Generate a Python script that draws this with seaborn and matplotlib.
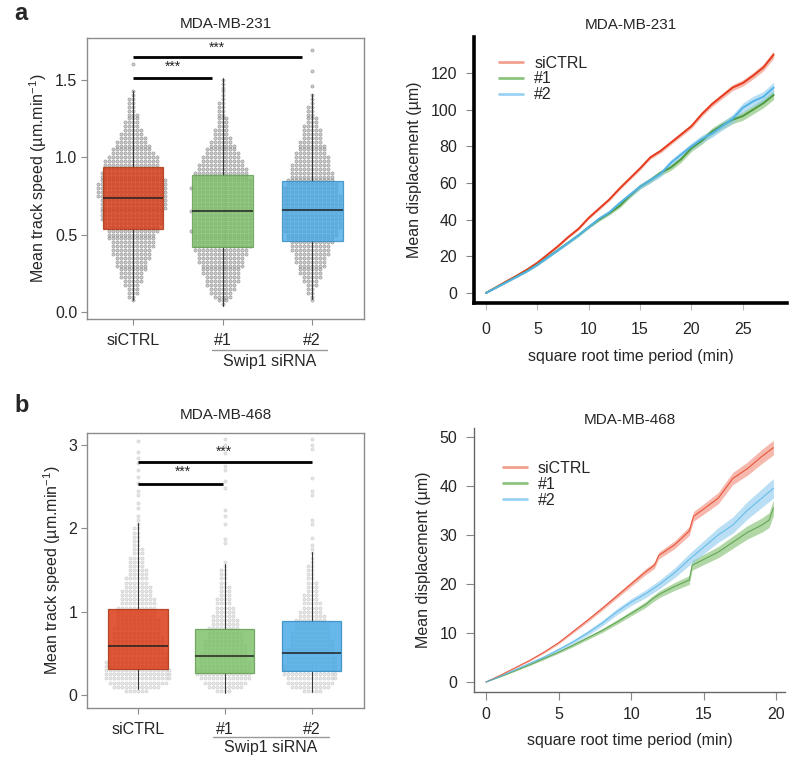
import numpy as np
import pandas as pd
import seaborn as sns
import matplotlib
matplotlib.use("Agg")
import matplotlib.pyplot as plt
from matplotlib.lines import Line2D
from matplotlib.transforms import blended_transform_factory

sns.set_style("white")
plt.rcParams['font.family'] = ['Liberation Sans', 'DejaVu Sans']
plt.rcParams['mathtext.fontset'] = 'custom'
plt.rcParams['mathtext.rm'] = 'Liberation Sans'

groups = ["siCTRL", "#1", "#2"]

# ---- panel a: MDA-MB-231 track speed, binned beeswarm counts (bin = 0.025) ----
step_a = 0.025
ctrl_a_start = 0.075
ctrl_a_counts = [1, 2, 3, 3, 4, 5, 6, 6, 7, 8, 8, 9, 10, 10, 11, 11, 12, 12, 13, 14,
                 15, 16, 16, 16, 17, 17, 17, 18, 18, 18, 18, 17, 16, 16, 15, 14, 14, 13,
                 11, 10, 9, 8, 7, 6, 5, 4, 4, 3, 3, 2, 2, 2, 2, 1, 1]
ctrl_a_extra = [1.60]
si1_a_start = 0.05
si1_a_counts = [1, 3, 5, 6, 7, 8, 9, 9, 10, 10, 11, 12, 12, 13, 14, 15, 15, 15, 15, 16,
                15, 15, 15, 15, 16, 15, 15, 15, 15, 15, 16, 15, 15, 14, 14, 13, 12, 11,
                10, 9, 8, 7, 6, 5, 4, 4, 3, 3, 3, 2, 2, 2, 2, 1, 1, 1, 1, 1, 1]
si1_a_extra = []
si2_a_start = 0.075
si2_a_counts = [1, 1, 2, 2, 3, 4, 5, 6, 6, 7, 8, 8, 9, 10, 10, 11, 12, 13, 14, 15,
                15, 15, 15, 15, 15, 15, 15, 15, 14, 14, 13, 12, 11, 11, 10, 10, 9, 9,
                8, 7, 7, 6, 5, 5, 5, 4, 3, 3, 2, 2, 2, 1, 1, 1]
si2_a_extra = [1.46, 1.56, 1.69]

box_a_q1 = [0.535, 0.42, 0.458]
box_a_med = [0.735, 0.65, 0.66]
box_a_q3 = [0.935, 0.884, 0.845]
box_a_lo = [0.08, 0.04, 0.085]
box_a_hi = [1.43, 1.51, 1.41]

# ---- panel b: MDA-MB-468 track speed (bin = 0.05) ----
step_b = 0.05
ctrl_b_start = 0.05
ctrl_b_counts = [6, 12, 15, 17, 17, 17, 16, 16, 15, 15, 14, 14, 13, 13, 12, 12, 11, 11,
                 10, 10, 10, 9, 9, 8, 8, 7, 6, 6, 5, 5, 4, 4, 4, 3, 3, 2, 2, 2, 2, 2, 1, 1]
ctrl_b_extra = [2.15, 2.25, 2.30, 2.40, 2.45, 2.55, 2.62, 2.70, 2.78, 2.85, 2.92, 3.05]
si1_b_start = 0.05
si1_b_counts = [4, 9, 11, 13, 14, 14, 13, 13, 12, 12, 11, 11, 10, 9, 9, 8, 7, 7, 6, 5,
                5, 4, 4, 3, 3, 3, 2, 2, 2, 2, 1, 1]
si1_b_extra = [1.82, 1.87, 2.05, 2.15, 2.22, 2.48, 2.57, 2.70, 2.75, 2.90, 3.00, 3.07]
si2_b_start = 0.05
si2_b_counts = [5, 10, 12, 13, 14, 14, 14, 13, 13, 12, 12, 11, 11, 10, 10, 9, 9, 8, 7, 6,
                5, 5, 4, 4, 3, 3, 3, 2, 2, 2, 2, 1, 1, 1, 1]
si2_b_extra = [1.80, 1.88, 2.05, 2.10, 2.40, 2.45, 2.60, 2.95, 3.00, 3.07]

box_b_q1 = [0.31, 0.27, 0.29]
box_b_med = [0.59, 0.47, 0.51]
box_b_q3 = [1.03, 0.79, 0.89]
box_b_lo = [0.07, 0.03, 0.04]
box_b_hi = [2.07, 1.57, 1.72]

# ---- mean displacement curves, MDA-MB-231 ----
t_a = [0, 1, 2, 3, 4, 5, 6, 7, 8, 9, 10, 11, 12, 13, 14, 15, 16, 17, 18, 19, 20,
       21, 22, 23, 24, 25, 26, 27, 28]
ctrl_a_disp = [0, 3.2, 6.4, 9.5, 12.8, 16.5, 21, 25.5, 30.5, 35, 41, 46, 51, 57, 62.5,
               68, 74, 77.5, 82, 86.5, 91, 97.5, 103, 107.5, 112, 114.5, 118.5, 123, 130]
si1_a_disp = [0, 3, 6, 9, 12, 15.5, 19.5, 23.5, 27.5, 31.5, 36, 40, 43.5, 47.5, 53,
              58, 61.5, 65.5, 68.5, 73, 79, 83, 88, 91.5, 94.5, 96.5, 100, 103.5, 108]
si2_a_disp = [0, 2.9, 5.8, 8.8, 11.8, 15.3, 19.3, 23.3, 27.3, 31.5, 36, 40.5, 44, 49,
              53.5, 58, 61.5, 65, 71, 75.5, 80, 84, 87, 91, 95, 101, 104.5, 107, 112]
ctrl_a_ci = [0, 0.1, 0.2, 0.3, 0.4, 0.5, 0.5, 0.6, 0.6, 0.7, 0.7, 0.8, 0.8, 0.9, 0.9,
             1.0, 1.0, 1.1, 1.1, 1.2, 1.2, 1.3, 1.4, 1.5, 1.6, 1.7, 1.8, 1.9, 2.0]
si1_a_ci = [0, 0.1, 0.2, 0.3, 0.4, 0.5, 0.5, 0.6, 0.7, 0.7, 0.8, 0.9, 1.0, 1.1, 1.2,
            1.3, 1.4, 1.5, 1.6, 1.7, 1.8, 1.9, 2.0, 2.1, 2.2, 2.3, 2.4, 2.5, 2.5]
si2_a_ci = [0, 0.1, 0.2, 0.3, 0.4, 0.5, 0.6, 0.7, 0.7, 0.8, 0.9, 1.0, 1.1, 1.2, 1.3,
            1.4, 1.5, 1.6, 1.7, 1.8, 1.9, 2.0, 2.1, 2.2, 2.4, 2.6, 2.8, 2.9, 3.0]

# ---- mean displacement curves, MDA-MB-468 ----
t_b_ctrl = [0, 1, 2, 3, 4, 5, 6, 7, 8, 9, 10, 11, 11.6, 11.9, 13, 14, 14.3, 15, 16,
            17, 18, 19, 19.8]
ctrl_b_disp = [0, 1.4, 2.9, 4.4, 6.1, 8, 10.3, 12.6, 15, 17.5, 20, 22.5, 23.8, 25.8,
               28, 30.8, 33.8, 35.3, 37.5, 41.5, 43.5, 46, 47.8]
ctrl_b_ci = [0, 0.05, 0.1, 0.15, 0.2, 0.25, 0.3, 0.35, 0.4, 0.45, 0.5, 0.6, 0.65, 0.7,
             0.8, 0.9, 1.0, 1.05, 1.15, 1.25, 1.35, 1.45, 1.5]
t_b_si1 = [0, 1, 2, 3, 4, 5, 6, 7, 8, 9, 10, 11, 11.5, 12, 13, 14, 14.2, 15, 16, 17,
           18, 19, 19.5, 19.8]
si1_b_disp = [0, 1.1, 2.3, 3.5, 4.8, 6.1, 7.5, 9, 10.5, 12.2, 14, 15.8, 17, 18, 19.5,
              20.8, 23.8, 25, 26.5, 28.5, 30.5, 32, 33, 35.5]
si1_b_ci = [0, 0.05, 0.1, 0.15, 0.2, 0.25, 0.3, 0.35, 0.4, 0.45, 0.5, 0.6, 0.65, 0.7,
            0.8, 0.9, 1.0, 1.05, 1.15, 1.25, 1.35, 1.45, 1.5, 1.6]
t_b_si2 = [0, 1, 2, 3, 4, 5, 6, 7, 8, 9, 10, 11, 12, 13, 14, 15, 16, 17, 18, 19, 19.8]
si2_b_disp = [0, 1.2, 2.5, 3.8, 5.1, 6.6, 8.2, 10, 12, 14.3, 16.3, 18, 20, 22.3, 25,
              27.5, 30, 32, 35, 37.5, 39.5]
si2_b_ci = [0, 0.07, 0.14, 0.2, 0.28, 0.35, 0.42, 0.5, 0.56, 0.63, 0.7, 0.8, 0.9, 1.0,
            1.2, 1.35, 1.5, 1.65, 1.8, 1.9, 2.0]

box_colors = ["#D8340E", "#7CC068", "#45A9E6"]
box_edges = ["#A8300F", "#5E9A4E", "#2F86C0"]
line_colors = ["#E63B1E", "#4E9A3E", "#52B3E8"]
band_colors = ["#F08A76", "#7DBD6C", "#8DCBEF"]
legend_colors = ["#F2A08E", "#8CC47E", "#9AD2F2"]

FS = 11.5


def expand(start, counts, extra, step):
    vals = []
    for i, c in enumerate(counts):
        vals += [round(start + i * step, 3)] * c
    return vals + list(extra)


def speed_panel(ax, series, q1, med, q3, lo, hi, dot_alpha, box_alpha):
    rows = []
    for g, vals in zip(groups, series):
        rows += [(g, v) for v in vals]
    df = pd.DataFrame(rows, columns=["group", "speed"])

    sns.swarmplot(data=df, x="group", y="speed", order=groups, ax=ax,
                  color="#9a9a9a", size=2.3, alpha=dot_alpha,
                  edgecolor="#444444", linewidth=0.4, warn_thresh=1, zorder=1)

    stats = [dict(q1=a, med=m, q3=b, whislo=l, whishi=h, fliers=[])
             for a, m, b, l, h in zip(q1, med, q3, lo, hi)]
    bp = ax.bxp(stats, positions=[0, 1, 2], widths=0.68, patch_artist=True,
                showcaps=False, showfliers=False, manage_ticks=False,
                whiskerprops=dict(color="#333333", lw=0.7),
                medianprops=dict(color="#222222", lw=1.1))
    for box, fc, ec in zip(bp["boxes"], box_colors, box_edges):
        box.set_facecolor(fc)
        box.set_edgecolor(ec)
        box.set_linewidth(0.9)
        box.set_alpha(box_alpha)
        box.set_zorder(3)
    for w in bp["whiskers"]:
        w.set_zorder(2)
    for m in bp["medians"]:
        m.set_zorder(4)

    ax.set_xlabel("")
    ax.set_ylabel("Mean track speed (µm.min$^{\\mathregular{-1}}$)", fontsize=FS)
    for s in ax.spines.values():
        s.set_color("#8c8c8c")
        s.set_linewidth(1)
    ax.tick_params(axis="both", labelsize=FS, length=4, color="#8c8c8c",
                   direction="out", left=True, bottom=True)
    ax.tick_params(axis="y", pad=3)
    ax.tick_params(axis="x", pad=6)


def sig_bar(ax, x0, x1, y, ys, xs):
    ax.plot([x0, x1], [y, y], color="black", lw=2, solid_capstyle="butt", zorder=5)
    ax.text(xs, ys, "***", ha="center", va="center", fontsize=10, zorder=5)


def group_label(ax, x0, x1, yline, ytext):
    tr = blended_transform_factory(ax.transData, ax.transAxes)
    ax.plot([x0, x1], [yline, yline], color="#999999", lw=1, transform=tr,
            clip_on=False)
    ax.text((x0 + x1) / 2, ytext, "Swip1 siRNA", transform=tr, ha="center",
            va="center", fontsize=FS)


def disp_panel(ax, ts, means, cis, lw, line_alpha):
    for t, m, c, lc, bc in zip(ts, means, cis, line_colors, band_colors):
        m = np.array(m)
        c = np.array(c)
        ax.fill_between(t, m - c, m + c, color=bc, alpha=0.6, lw=0)
        sns.lineplot(x=t, y=m, color=lc, lw=lw, alpha=line_alpha, ax=ax,
                     errorbar=None, sort=False)
    ax.set_ylabel("Mean displacement (µm)", fontsize=FS, labelpad=6)
    ax.set_xlabel("square root time period (min)", fontsize=FS, labelpad=8)
    handles = [Line2D([], [], color=c, lw=2) for c in legend_colors]
    return handles


fig = plt.figure(figsize=(8, 7.69), dpi=100)

# ---------- a, left ----------
ax1 = fig.add_axes([0.10875, 0.5852, 0.34625, 0.3654])
speed_panel(ax1,
            [expand(ctrl_a_start, ctrl_a_counts, ctrl_a_extra, step_a),
             expand(si1_a_start, si1_a_counts, si1_a_extra, step_a),
             expand(si2_a_start, si2_a_counts, si2_a_extra, step_a)],
            box_a_q1, box_a_med, box_a_q3, box_a_lo, box_a_hi, 0.5, 0.78)
ax1.set_xlim(-0.514, 2.58)
ax1.set_ylim(-0.045, 1.77)
ax1.set_yticks([0, 0.5, 1.0, 1.5])
ax1.set_yticklabels(["0.0", "0.5", "1.0", "1.5"])
ax1.set_title("MDA-MB-231", fontsize=11, pad=7)
sig_bar(ax1, 0, 0.88, 1.51, 1.585, 0.45)
sig_bar(ax1, 0, 1.89, 1.65, 1.705, 0.94)
group_label(ax1, 0.88, 2.17, -0.11, -0.153)

# ---------- a, right ----------
ax2 = fig.add_axes([0.5925, 0.606, 0.39125, 0.3459])
h = disp_panel(ax2, [t_a, t_a, t_a], [ctrl_a_disp, si1_a_disp, si2_a_disp],
               [ctrl_a_ci, si1_a_ci, si2_a_ci], 1.4, 1.0)
ax2.set_xlim(-1.17, 29.3)
ax2.set_ylim(-5.45, 139.6)
ax2.set_xticks([0, 5, 10, 15, 20, 25])
ax2.set_yticks([0, 20, 40, 60, 80, 100, 120])
for side in ["top", "right"]:
    ax2.spines[side].set_visible(False)
for side in ["left", "bottom"]:
    ax2.spines[side].set_color("black")
    ax2.spines[side].set_linewidth(2.6)
ax2.tick_params(axis="y", labelsize=FS, length=6, width=0.8, color="#888888",
                left=True, pad=6)
ax2.tick_params(axis="x", labelsize=FS, length=5, width=0.8, color="#bbbbbb",
                bottom=True, pad=9)
ax2.set_title("MDA-MB-231", fontsize=11, pad=6)
ax2.legend(h, groups, loc="upper left", bbox_to_anchor=(0.08, 0.93), frameon=False,
           fontsize=FS, handlelength=1.5, handletextpad=0.7, labelspacing=0.05,
           borderpad=0, borderaxespad=0)

# ---------- b, left ----------
ax3 = fig.add_axes([0.10875, 0.0793, 0.34625, 0.3576])
speed_panel(ax3,
            [expand(ctrl_b_start, ctrl_b_counts, ctrl_b_extra, step_b),
             expand(si1_b_start, si1_b_counts, si1_b_extra, step_b),
             expand(si2_b_start, si2_b_counts, si2_b_extra, step_b)],
            box_b_q1, box_b_med, box_b_q3, box_b_lo, box_b_hi, 0.22, 0.82)
ax3.set_xlim(-0.586, 2.6)
ax3.set_ylim(-0.156, 3.144)
ax3.set_yticks([0, 1, 2, 3])
ax3.set_title("MDA-MB-468", fontsize=11, pad=10)
sig_bar(ax3, 0, 0.98, 2.53, 2.68, 0.52)
sig_bar(ax3, 0, 2.0, 2.80, 2.92, 0.99)
group_label(ax3, 0.86, 2.2, -0.105, -0.145)

# ---------- b, right ----------
ax4 = fig.add_axes([0.5925, 0.1001, 0.38875, 0.3433])
h = disp_panel(ax4, [t_b_ctrl, t_b_si1, t_b_si2],
               [ctrl_b_disp, si1_b_disp, si2_b_disp],
               [ctrl_b_ci, si1_b_ci, si2_b_ci], 0.8, 0.8)
ax4.set_xlim(-0.83, 20.6)
ax4.set_ylim(-2.04, 51.8)
ax4.set_xticks([0, 5, 10, 15, 20])
ax4.set_yticks([0, 10, 20, 30, 40, 50])
for side in ["top", "right"]:
    ax4.spines[side].set_visible(False)
for side in ["left", "bottom"]:
    ax4.spines[side].set_color("#666666")
    ax4.spines[side].set_linewidth(1)
ax4.tick_params(axis="both", labelsize=FS, length=6, width=0.8, color="#888888",
                left=True, bottom=True)
ax4.tick_params(axis="y", pad=6)
ax4.tick_params(axis="x", pad=5)
ax4.set_title("MDA-MB-468", fontsize=11, pad=3)
ax4.legend(h, groups, loc="upper left", bbox_to_anchor=(0.093, 0.875), frameon=False,
           fontsize=FS, handlelength=1.5, handletextpad=0.7, labelspacing=0.05,
           borderpad=0, borderaxespad=0)

fig.text(0.018, 0.982, "a", fontsize=17, fontweight="bold", va="center", ha="left")
fig.text(0.018, 0.473, "b", fontsize=17, fontweight="bold", va="center", ha="left")

fig.savefig("out.png", dpi=100)
